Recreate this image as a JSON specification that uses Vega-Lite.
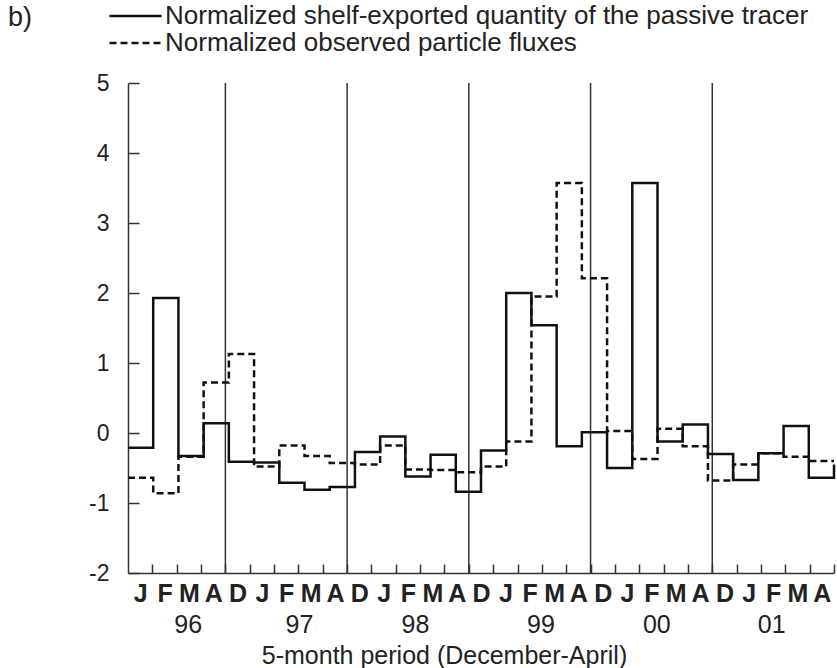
{
  "$schema": "https://vega.github.io/schema/vega-lite/v6.json",
  "width": 706,
  "height": 490,
  "autosize": {"type": "none"},
  "padding": {"left": 128, "top": 83, "right": 3, "bottom": 95},
  "background": "white",
  "config": {
    "font": "Liberation Sans",
    "view": {"stroke": null},
    "axis": {
      "grid": false,
      "domainColor": "#333",
      "domainWidth": 1.5,
      "tickColor": "#333",
      "tickWidth": 1.5,
      "labelColor": "#222",
      "titleColor": "#222",
      "labelFont": "Liberation Sans",
      "titleFont": "Liberation Sans"
    }
  },
  "title": {
    "text": "b)",
    "anchor": "start",
    "frame": "group",
    "dx": -120,
    "dy": 50,
    "fontSize": 27,
    "fontWeight": "normal",
    "color": "#222",
    "baseline": "alphabetic",
    "offset": 0
  },
  "datasets": {
    "bounds": [{"b": 4}, {"b": 9}, {"b": 14}, {"b": 19}, {"b": 24}],
    "years": [
      {"p": 2.45, "yr": "96"}, {"p": 7.02, "yr": "97"}, {"p": 11.79, "yr": "98"},
      {"p": 16.94, "yr": "99"}, {"p": 21.7, "yr": "00"}, {"p": 26.42, "yr": "01"}
    ],
    "flux": [
      {"m": 0, "v": -0.21, "s": "Normalized shelf-exported quantity of the passive tracer"},
      {"m": 1, "v": 1.93, "s": "Normalized shelf-exported quantity of the passive tracer"},
      {"m": 2, "v": -0.33, "s": "Normalized shelf-exported quantity of the passive tracer"},
      {"m": 3, "v": 0.14, "s": "Normalized shelf-exported quantity of the passive tracer"},
      {"m": 4, "v": -0.41, "s": "Normalized shelf-exported quantity of the passive tracer"},
      {"m": 5, "v": -0.42, "s": "Normalized shelf-exported quantity of the passive tracer"},
      {"m": 6, "v": -0.71, "s": "Normalized shelf-exported quantity of the passive tracer"},
      {"m": 7, "v": -0.81, "s": "Normalized shelf-exported quantity of the passive tracer"},
      {"m": 8, "v": -0.77, "s": "Normalized shelf-exported quantity of the passive tracer"},
      {"m": 9, "v": -0.27, "s": "Normalized shelf-exported quantity of the passive tracer"},
      {"m": 10, "v": -0.05, "s": "Normalized shelf-exported quantity of the passive tracer"},
      {"m": 11, "v": -0.62, "s": "Normalized shelf-exported quantity of the passive tracer"},
      {"m": 12, "v": -0.31, "s": "Normalized shelf-exported quantity of the passive tracer"},
      {"m": 13, "v": -0.84, "s": "Normalized shelf-exported quantity of the passive tracer"},
      {"m": 14, "v": -0.25, "s": "Normalized shelf-exported quantity of the passive tracer"},
      {"m": 15, "v": 2.0, "s": "Normalized shelf-exported quantity of the passive tracer"},
      {"m": 16, "v": 1.54, "s": "Normalized shelf-exported quantity of the passive tracer"},
      {"m": 17, "v": -0.19, "s": "Normalized shelf-exported quantity of the passive tracer"},
      {"m": 18, "v": 0.01, "s": "Normalized shelf-exported quantity of the passive tracer"},
      {"m": 19, "v": -0.5, "s": "Normalized shelf-exported quantity of the passive tracer"},
      {"m": 20, "v": 3.57, "s": "Normalized shelf-exported quantity of the passive tracer"},
      {"m": 21, "v": -0.12, "s": "Normalized shelf-exported quantity of the passive tracer"},
      {"m": 22, "v": 0.12, "s": "Normalized shelf-exported quantity of the passive tracer"},
      {"m": 23, "v": -0.3, "s": "Normalized shelf-exported quantity of the passive tracer"},
      {"m": 24, "v": -0.67, "s": "Normalized shelf-exported quantity of the passive tracer"},
      {"m": 25, "v": -0.29, "s": "Normalized shelf-exported quantity of the passive tracer"},
      {"m": 26, "v": 0.1, "s": "Normalized shelf-exported quantity of the passive tracer"},
      {"m": 27, "v": -0.64, "s": "Normalized shelf-exported quantity of the passive tracer"},
      {"m": 28, "v": -0.45, "s": "Normalized shelf-exported quantity of the passive tracer"},
      {"m": 0, "v": -0.64, "s": "Normalized observed particle fluxes"},
      {"m": 1, "v": -0.86, "s": "Normalized observed particle fluxes"},
      {"m": 2, "v": -0.34, "s": "Normalized observed particle fluxes"},
      {"m": 3, "v": 0.72, "s": "Normalized observed particle fluxes"},
      {"m": 4, "v": 1.13, "s": "Normalized observed particle fluxes"},
      {"m": 5, "v": -0.48, "s": "Normalized observed particle fluxes"},
      {"m": 6, "v": -0.18, "s": "Normalized observed particle fluxes"},
      {"m": 7, "v": -0.33, "s": "Normalized observed particle fluxes"},
      {"m": 8, "v": -0.43, "s": "Normalized observed particle fluxes"},
      {"m": 9, "v": -0.45, "s": "Normalized observed particle fluxes"},
      {"m": 10, "v": -0.18, "s": "Normalized observed particle fluxes"},
      {"m": 11, "v": -0.52, "s": "Normalized observed particle fluxes"},
      {"m": 12, "v": -0.53, "s": "Normalized observed particle fluxes"},
      {"m": 13, "v": -0.56, "s": "Normalized observed particle fluxes"},
      {"m": 14, "v": -0.48, "s": "Normalized observed particle fluxes"},
      {"m": 15, "v": -0.12, "s": "Normalized observed particle fluxes"},
      {"m": 16, "v": 1.95, "s": "Normalized observed particle fluxes"},
      {"m": 17, "v": 3.57, "s": "Normalized observed particle fluxes"},
      {"m": 18, "v": 2.21, "s": "Normalized observed particle fluxes"},
      {"m": 19, "v": 0.03, "s": "Normalized observed particle fluxes"},
      {"m": 20, "v": -0.37, "s": "Normalized observed particle fluxes"},
      {"m": 21, "v": 0.06, "s": "Normalized observed particle fluxes"},
      {"m": 22, "v": -0.19, "s": "Normalized observed particle fluxes"},
      {"m": 23, "v": -0.68, "s": "Normalized observed particle fluxes"},
      {"m": 24, "v": -0.45, "s": "Normalized observed particle fluxes"},
      {"m": 25, "v": -0.29, "s": "Normalized observed particle fluxes"},
      {"m": 26, "v": -0.34, "s": "Normalized observed particle fluxes"},
      {"m": 27, "v": -0.4, "s": "Normalized observed particle fluxes"},
      {"m": 28, "v": -0.4, "s": "Normalized observed particle fluxes"}
    ]
  },
  "layer": [
    {
      "data": {"name": "bounds"},
      "mark": {"type": "rule", "stroke": "#333", "strokeWidth": 1.5},
      "encoding": {
        "x": {
          "field": "b",
          "type": "quantitative",
          "scale": {"domain": [0, 29], "nice": false, "zero": false},
          "axis": {
            "orient": "bottom",
            "values": [1,2,3,4,5,6,7,8,9,10,11,12,13,14,15,16,17,18,19,20,21,22,23,24,25,26,27,28,29],
            "labelExpr": "datum.value <= 4 ? ['J','F','M','A'][datum.value - 1] : ['D','J','F','M','A'][(datum.value - 5) % 5]",
            "tickSize": -9,
            "labelOffset": -12.17,
            "labelPadding": 17,
            "labelFontSize": 25,
            "labelFontWeight": "bold",
            "labelFlush": false,
            "labelOverlap": false,
            "labelBound": false,
            "title": null
          }
        }
      }
    },
    {
      "data": {"name": "years"},
      "mark": {"type": "rule", "strokeOpacity": 0},
      "encoding": {
        "x": {
          "field": "p",
          "type": "quantitative",
          "scale": {"domain": [0, 29], "nice": false, "zero": false},
          "axis": {
            "orient": "bottom",
            "values": [2.45, 7.02, 11.79, 16.94, 21.7, 26.42],
            "labelExpr": "datum.value < 4 ? '96' : datum.value < 9 ? '97' : datum.value < 14 ? '98' : datum.value < 19 ? '99' : datum.value < 24 ? '00' : '01'",
            "ticks": false,
            "tickSize": 0,
            "domain": false,
            "labelPadding": 39,
            "labelFontSize": 25,
            "labelFlush": false,
            "labelOverlap": false,
            "title": "5-month period (December-April)",
            "titleFontSize": 25,
            "titleFontWeight": "normal",
            "titleX": 316,
            "titleY": 70,
            "titleAlign": "center",
            "titleBaseline": "top"
          }
        }
      }
    },
    {
      "data": {"name": "flux"},
      "mark": {"type": "line", "interpolate": "step-after", "strokeWidth": 2.5, "color": "#111"},
      "encoding": {
        "x": {
          "field": "m",
          "type": "quantitative",
          "scale": {"domain": [0, 28], "nice": false, "zero": false},
          "axis": null
        },
        "y": {
          "field": "v",
          "type": "quantitative",
          "scale": {"domain": [-2, 5], "nice": false, "zero": false},
          "axis": {
            "values": [-2, -1, 0, 1, 2, 3, 4, 5],
            "labelExpr": "'' + datum.value",
            "tickSize": -11,
            "labelPadding": 30,
            "labelFontSize": 23,
            "labelFlush": false,
            "title": null
          }
        },
        "strokeDash": {
          "field": "s",
          "type": "nominal",
          "scale": {
            "domain": ["Normalized shelf-exported quantity of the passive tracer", "Normalized observed particle fluxes"],
            "range": [[1, 0], [7, 4]]
          },
          "legend": {
            "orient": "none",
            "legendX": -20,
            "legendY": -80.5,
            "title": null,
            "symbolType": "stroke",
            "symbolSize": 2704,
            "symbolStrokeWidth": 2.5,
            "symbolStrokeColor": "#111",
            "clipHeight": 27,
            "rowPadding": 0,
            "padding": 0,
            "labelFontSize": 26,
            "labelOffset": 2,
            "labelColor": "#222",
            "labelLimit": 0
          }
        }
      }
    }
  ],
  "resolve": {"scale": {"x": "independent"}, "axis": {"x": "independent"}}
}
